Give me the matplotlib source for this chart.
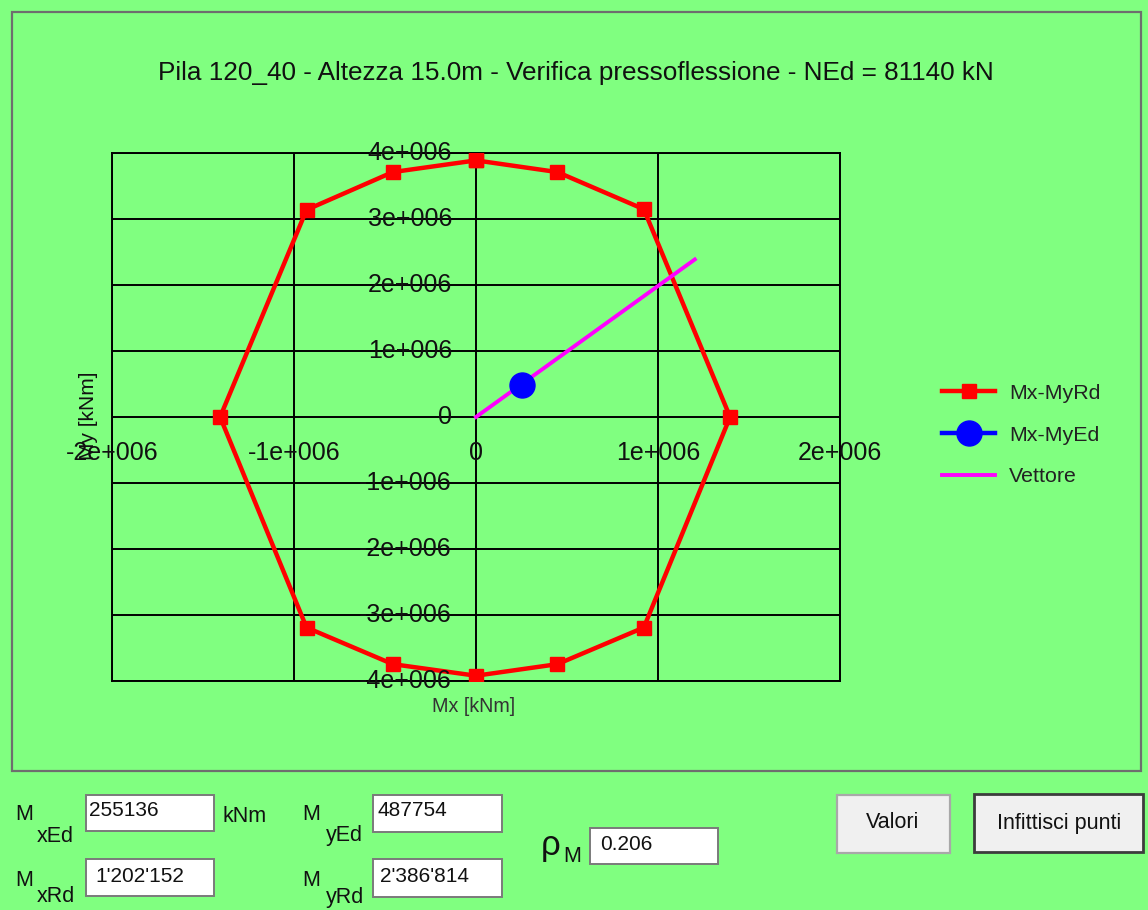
import matplotlib
matplotlib.use("Agg")
import matplotlib.pyplot as plt
from matplotlib.patches import Rectangle
from matplotlib.transforms import offset_copy

plt.rcParams["font.family"] = ["Liberation Sans", "DejaVu Sans"]

# ---- data -------------------------------------------------------------
title = "Pila 120_40 - Altezza 15.0m - Verifica pressoflessione - NEd = 81140 kN"

# resisting domain Mx-MyRd (kNm), clockwise from the top
mrd_x = [0, 447000, 922000, 1396000, 922000, 447000, 0,
         -457000, -931000, -1406000, -931000, -457000]
mrd_y = [3888000, 3711000, 3148000, 0, -3190000, -3745000, -3920000,
         -3745000, -3190000, 0, 3139000, 3711000]

# acting moments and resisting vector
mx_ed, my_ed = 255136, 487754
mx_rd, my_rd = 1202152, 2386814
rho_m = 0.206

x_ticks = [-2e6, -1e6, 0, 1e6, 2e6]
x_tick_labels = ["-2e+006", "-1e+006", "0", "1e+006", "2e+006"]
y_ticks = [-4e6, -3e6, -2e6, -1e6, 0, 1e6, 2e6, 3e6, 4e6]
y_tick_labels = ["-4e+006", "-3e+006", "-2e+006", "-1e+006", "0",
                 "1e+006", "2e+006", "3e+006", "4e+006"]

series_labels = ["Mx-MyRd", "Mx-MyEd", "Vettore"]

# ---- figure -----------------------------------------------------------
W, H = 1148, 910
BG = "#80FF80"
fig = plt.figure(figsize=(W / 100, H / 100), dpi=100, facecolor=BG)


def fx(x):
    return x / W


def fy(y):
    return 1 - y / H


def box(x0, y0, x1, y1, face, edge, lw=1.2, z=1):
    fig.patches.append(Rectangle((fx(x0), fy(y1)), fx(x1 - x0), (y1 - y0) / H,
                                 transform=fig.transFigure, facecolor=face,
                                 edgecolor=edge, linewidth=lw, zorder=z))


# panel frame
box(12, 12, 1141, 771, "none", "#6e6e6e", lw=1.6)

ax = fig.add_axes([fx(112), fy(681), (840 - 112) / W, (681 - 153) / H])
ax.set_facecolor(BG)
ax.set_xlim(-2e6, 2e6)
ax.set_ylim(-4e6, 4e6)
ax.set_xticks(x_ticks)
ax.set_yticks(y_ticks)
ax.tick_params(length=0, labelbottom=False, labelleft=False)
ax.grid(True, color="black", linewidth=1.4)
for sp in ax.spines.values():
    sp.set_color("black")
    sp.set_linewidth(1.4)

# tick labels sit along the zero axes
TICK_FS = 18
tx = offset_copy(ax.transData, fig=fig, x=0, y=-36, units="dots")
for v, s in zip(x_ticks, x_tick_labels):
    ax.text(v, 0, s, transform=tx, ha="center", va="center", fontsize=TICK_FS,
            color="#111111", zorder=5)
ty = offset_copy(ax.transData, fig=fig, x=-24, y=0, units="dots")
for v, s in zip(y_ticks, y_tick_labels):
    ax.text(0, v, s, transform=ty, ha="right", va="center", fontsize=TICK_FS,
            color="#111111", zorder=5)

fig.text(fx(474), fy(706), "Mx [kNm]", ha="center", va="center",
         fontsize=14.2, color="#333333")
fig.text(fx(89), fy(416), "My [kNm]", ha="center", va="center",
         rotation=90, fontsize=15, color="#111111")

# closed resisting domain
px = mrd_x + mrd_x[:1]
py = mrd_y + mrd_y[:1]
h_rd, = ax.plot(px, py, color="#FF0000", linewidth=3.2, marker="s",
                markersize=9.5, label=series_labels[0], zorder=3)
h_v, = ax.plot([0, mx_rd], [0, my_rd], color="#FF00FF", linewidth=2.8,
               label=series_labels[2], zorder=3)
h_ed, = ax.plot([mx_ed], [my_ed], color="#0000FF", linewidth=3.2, marker="o",
                markersize=18, linestyle="-", label=series_labels[1], zorder=4)

leg = ax.legend(handles=[h_rd, h_ed, h_v], loc="center left",
                bbox_to_anchor=(fx(942), fy(435)), bbox_transform=fig.transFigure,
                frameon=False, fontsize=15.4, handlelength=2.5, handletextpad=0.65,
                labelspacing=1.07, borderpad=0, borderaxespad=0)
for t in leg.get_texts():
    t.set_color("#222222")

fig.text(fx(576), fy(73), title, ha="center", va="center", fontsize=18.8,
         color="#111111")

# ---- input/output fields ---------------------------------------------
FS = 15.5


def fmt_sep(v):
    return f"{v:,}".replace(",", "'")


fields = [
    ((86, 795, 214, 831), str(mx_ed), 89, 811),
    ((86, 859, 214, 896), fmt_sep(mx_rd), 95, 877),
    ((373, 795, 502, 832), str(my_ed), 377, 811),
    ((373, 859, 502, 897), fmt_sep(my_rd), 380, 877),
    ((590, 828, 718, 864), f"{rho_m:.3f}", 600, 845),
]
for (x0, y0, x1, y1), s, tx0, ty0 in fields:
    box(x0, y0, x1, y1, "white", "#7a7a7a", lw=1.4)
    fig.text(fx(tx0), fy(ty0), s, ha="left", va="center", fontsize=15,
             color="#111111")

labels = [
    ("M", 15, 815), ("xEd", 37, 836), ("M", 15, 880), ("xRd", 37, 897),
    ("M", 302, 815), ("yEd", 326, 836), ("M", 302, 880), ("yRd", 326, 897),
    ("kNm", 222, 816), ("M", 563, 856),
]
for s, x, y in labels:
    fig.text(fx(x), fy(y), s, ha="left", va="center", fontsize=FS,
             color="#111111")
fig.text(fx(541), fy(846), "ρ", ha="left", va="center", fontsize=25,
         color="#111111")

# buttons
box(837, 795, 950, 853, "#F0F0F0", "#a8a8a8", lw=1.6)
fig.text(fx(893), fy(823), "Valori", ha="center", va="center", fontsize=15.5,
         color="#111111")
box(974, 794, 1143, 852, "#F0F0F0", "#3c3c3c", lw=2.0)
fig.text(fx(1059), fy(823), "Infittisci punti", ha="center", va="center",
         fontsize=15.5, color="#111111")

fig.savefig("out.png", dpi=100, facecolor=BG)
